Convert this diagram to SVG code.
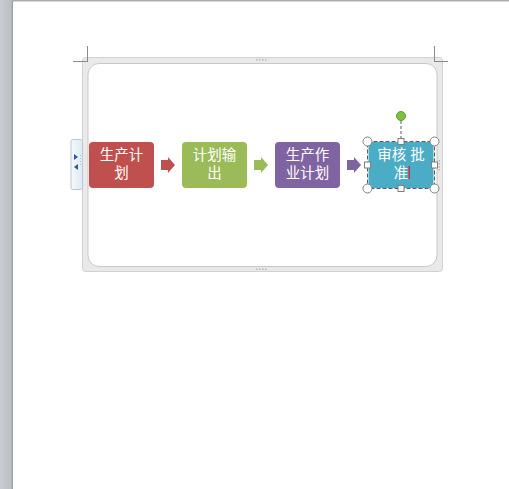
<svg xmlns="http://www.w3.org/2000/svg" width="509" height="489" viewBox="0 0 509 489">
<defs>
<linearGradient id="side" x1="0" y1="0" x2="1" y2="0">
<stop offset="0" stop-color="#c9ccd0"/>
<stop offset="0.8" stop-color="#bcc0c4"/>
<stop offset="1" stop-color="#a4a9ad"/>
</linearGradient>
<linearGradient id="tab" x1="0" y1="0" x2="1" y2="0">
<stop offset="0" stop-color="#f4f9fd"/>
<stop offset="1" stop-color="#dfeaf3"/>
</linearGradient>
</defs>
<style>
.lbl{font-family:"Liberation Sans","Noto Sans CJK SC",sans-serif;font-size:14.5px;fill:#ffffff;text-anchor:middle}
.arr{stroke:none}
.crop{stroke:#8a8a8a;stroke-width:1;fill:none}
.hc{fill:#ffffff;stroke:#7f7f7f;stroke-width:1}
.dot{fill:#b8b8b8}
</style>
<rect width="509" height="489" fill="#ffffff"/>
<rect x="0" y="0" width="13" height="489" fill="url(#side)"/>
<rect x="12" y="0" width="1" height="489" fill="#9aa0a3"/>
<rect x="12" y="0" width="497" height="1.5" fill="#a9adb0"/>

<g id="frame">
<rect x="82.5" y="57.5" width="360" height="214" rx="3" fill="#e9e9e9" stroke="#d2d2d2"/>
<rect x="88" y="63.5" width="349" height="203" rx="11" fill="#ffffff" stroke="#c8c8c8"/>
<line class="crop" x1="87.5" y1="46" x2="87.5" y2="61"/>
<line class="crop" x1="73" y1="61.5" x2="88" y2="61.5"/>
<line class="crop" x1="434.5" y1="46" x2="434.5" y2="61"/>
<line class="crop" x1="434" y1="61.5" x2="448" y2="61.5"/>
<g class="dot">
<rect x="256" y="59" width="1.5" height="1.5"/><rect x="259" y="59" width="1.5" height="1.5"/><rect x="262" y="59" width="1.5" height="1.5"/><rect x="265" y="59" width="1.5" height="1.5"/>
<rect x="256" y="268.5" width="1.5" height="1.5"/><rect x="259" y="268.5" width="1.5" height="1.5"/><rect x="262" y="268.5" width="1.5" height="1.5"/><rect x="265" y="268.5" width="1.5" height="1.5"/>
<rect x="438.5" y="160" width="1.5" height="1.5"/><rect x="438.5" y="163" width="1.5" height="1.5"/><rect x="438.5" y="166" width="1.5" height="1.5"/><rect x="438.5" y="169" width="1.5" height="1.5"/>
</g>
</g>

<g id="tab">
<rect x="71" y="139.5" width="11.5" height="50" rx="2" fill="url(#tab)" stroke="#b7c9d8"/>
<polygon points="74,154 78,157 74,160" fill="#2a5d9a"/>
<polygon points="78,164 74,167 78,170" fill="#2a5d9a"/>
<g class="dot"><rect x="80" y="155" width="1" height="1"/><rect x="80" y="158" width="1" height="1"/><rect x="80" y="161" width="1" height="1"/><rect x="80" y="164" width="1" height="1"/></g>
</g>

<g id="connectors">
<polygon class="arr" fill="#c0504d" points="161,160 168,160 168,157 175,165 168,173 168,170 161,170"/>
<polygon class="arr" fill="#9bbb59" points="254,160 261,160 261,157 268,165 261,173 261,170 254,170"/>
<polygon class="arr" fill="#8064a2" points="347,160 354,160 354,157 361,165 354,173 354,170 347,170"/>
</g>

<g id="n1">
<rect x="89" y="142" width="65" height="46" rx="4" fill="#c0504d"/>
<text class="lbl"><tspan x="121.5" y="159.5">生产计</tspan><tspan x="121.5" y="177.5">划</tspan></text>
</g>
<g id="n2">
<rect x="182" y="142" width="65" height="46" rx="4" fill="#9bbb59"/>
<text class="lbl"><tspan x="214.5" y="159.5">计划输</tspan><tspan x="214.5" y="177.5">出</tspan></text>
</g>
<g id="n3">
<rect x="275" y="142" width="65" height="46" rx="4" fill="#8064a2"/>
<text class="lbl"><tspan x="307.5" y="159.5">生产作</tspan><tspan x="307.5" y="177.5">业计划</tspan></text>
</g>
<g id="n4">
<rect x="368.5" y="142" width="65" height="46" rx="4" fill="#4bacc6"/>
<text class="lbl" xml:space="preserve"><tspan x="401" y="159.5">审核 批</tspan><tspan x="401" y="177.5">准</tspan></text>
<rect x="408.5" y="166" width="1.5" height="13" fill="#d0303a"/>
</g>

<g id="selection">
<rect x="367.5" y="141.5" width="67" height="47" fill="none" stroke="#5a5a5a" stroke-dasharray="4,2"/>
<line x1="401" y1="121" x2="401" y2="141" stroke="#5a5a5a" stroke-dasharray="3,2"/>
<circle cx="401" cy="116" r="4.5" fill="#7ec142" stroke="#5c9a2c"/>
<circle class="hc" cx="367.5" cy="141.5" r="4.5"/>
<circle class="hc" cx="434.5" cy="141.5" r="4.5"/>
<circle class="hc" cx="367.5" cy="188.5" r="4.5"/>
<circle class="hc" cx="434.5" cy="188.5" r="4.5"/>
<rect class="hc" x="398" y="138.5" width="6" height="6"/>
<rect class="hc" x="398" y="185.5" width="6" height="6"/>
<rect class="hc" x="364.5" y="162" width="6" height="6"/>
<rect class="hc" x="431.5" y="162" width="6" height="6"/>
</g>
</svg>
